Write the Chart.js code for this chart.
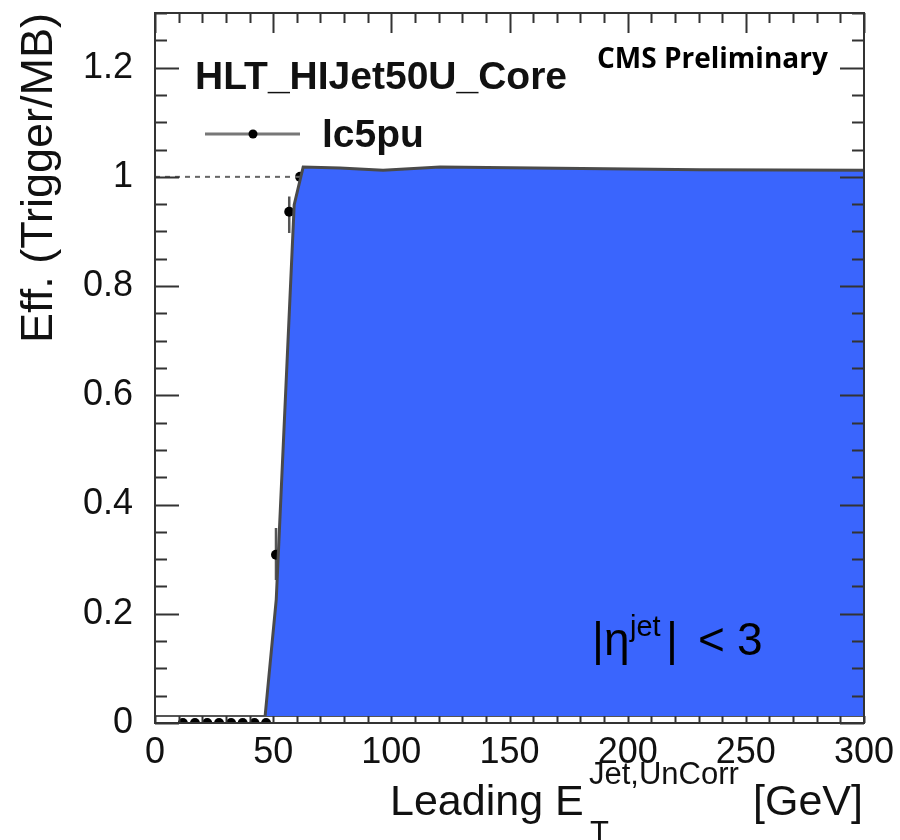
<!DOCTYPE html>
<html>
<head>
<meta charset="utf-8">
<script src="https://cdn.jsdelivr.net/npm/chart.js@4.4.1/dist/chart.umd.min.js"></script>
<style>
  html, body { margin: 0; padding: 0; background: #ffffff; }
  #wrap { width: 900px; height: 840px; position: relative; }
</style>
</head>
<body>
<div id="wrap"><canvas id="c" width="900" height="840"></canvas></div>
<script>
// Trigger efficiency points (lc5pu), leading jet ET in GeV
const PT_X      = [11.8, 16.9, 22.1, 27.1, 32.2, 37.1, 42.1, 47.0, 51.2, 56.8, 61.4];
const PT_EFF    = [0, 0, 0, 0, 0, 0, 0, 0, 0.308, 0.936, 1.0];
const PT_ERR_LO = [0, 0, 0, 0, 0, 0, 0, 0, 0.046, 0.039, 0];
const PT_ERR_HI = [0, 0, 0, 0, 0, 0, 0, 0, 0.049, 0.028, 0];

// Shaded plateau band (upper outline), filled down to BAND_BASE
const BAND_X    = [46.6, 51.3, 58.9, 62.7, 78.3, 96.5, 120.6, 230.5, 300];
const BAND_Y    = [0.013, 0.226, 0.949, 1.018, 1.016, 1.012, 1.018, 1.013, 1.012];
const BAND_BASE = 0.013;

// Full-efficiency reference line
const REF_X = [0, 300];
const REF_Y = 1;

// Axis tick labels
const X_TICKS = [0, 50, 100, 150, 200, 250, 300];
const Y_TICKS = [0, 0.2, 0.4, 0.6, 0.8, 1.0, 1.2];

const FRAME = '#333333';

// ROOT-style frame with inward ticks on all four sides
const framePlugin = {
  id: 'frame',
  afterDraw(chart) {
    const { ctx, chartArea: a, scales: { x, y } } = chart;
    ctx.save();
    ctx.strokeStyle = FRAME;
    ctx.lineWidth = 2;
    ctx.beginPath();
    // y ticks: every 0.05, major every 0.2
    for (let i = 0; i <= 26; i++) {
      const v = i * 0.05;
      const py = Math.round(y.getPixelForValue(v)) + 0.5;
      const len = (i % 4 === 0) ? 24 : 12;
      ctx.moveTo(a.left, py); ctx.lineTo(a.left + len, py);
      ctx.moveTo(a.right, py); ctx.lineTo(a.right - len, py);
    }
    // x ticks: every 10 GeV, major every 50
    for (let i = 0; i <= 30; i++) {
      const v = i * 10;
      const px = Math.round(x.getPixelForValue(v)) + 0.5;
      const len = (i % 5 === 0) ? 20 : 10;
      ctx.moveTo(px, a.top); ctx.lineTo(px, a.top + len);
      ctx.moveTo(px, a.bottom); ctx.lineTo(px, a.bottom - 7);
    }
    ctx.stroke();
    ctx.strokeRect(a.left, a.top, a.right - a.left, a.bottom - a.top);
    ctx.restore();
  }
};

// Vertical error bars, drawn beneath the markers
const errorPlugin = {
  id: 'errors',
  beforeDatasetsDraw(chart) {
    const { ctx, scales: { x, y } } = chart;
    ctx.save();
    ctx.strokeStyle = '#555555';
    ctx.lineWidth = 2.5;
    ctx.beginPath();
    PT_X.forEach((xv, i) => {
      if (PT_ERR_LO[i] === 0 && PT_ERR_HI[i] === 0) return;
      const px = x.getPixelForValue(xv);
      ctx.moveTo(px, y.getPixelForValue(PT_EFF[i] - PT_ERR_LO[i]));
      ctx.lineTo(px, y.getPixelForValue(PT_EFF[i] + PT_ERR_HI[i]));
    });
    ctx.stroke();
    ctx.restore();
  }
};

// Labels, legend entry and axis titles
const textPlugin = {
  id: 'texts',
  afterDraw(chart) {
    const { ctx } = chart;
    ctx.save();
    ctx.fillStyle = '#111111';
    ctx.textBaseline = 'alphabetic';

    ctx.font = 'bold 39px "Liberation Sans", Arial, sans-serif';
    ctx.textAlign = 'left';
    ctx.fillText('HLT_HIJet50U_Core', 195, 89);

    // legend entry
    ctx.strokeStyle = '#777777';
    ctx.lineWidth = 3;
    ctx.beginPath(); ctx.moveTo(205, 134); ctx.lineTo(300, 134); ctx.stroke();
    ctx.fillStyle = '#000000';
    ctx.beginPath(); ctx.arc(253, 134, 4.5, 0, Math.PI * 2); ctx.fill();
    ctx.fillStyle = '#111111';
    ctx.fillText('lc5pu', 322, 147);

    ctx.font = 'bold 28px "Open Sans", "DejaVu Sans", sans-serif';
    ctx.fillStyle = '#000000';
    ctx.fillText('CMS Preliminary', 597, 68);

    // |eta^jet| < 3
    ctx.font = '46px "Liberation Sans", Arial, sans-serif';
    ctx.fillText('|\u03B7', 592, 655);
    ctx.font = '29px "Liberation Sans", Arial, sans-serif';
    ctx.fillText('jet', 630, 636);
    ctx.font = '46px "Liberation Sans", Arial, sans-serif';
    ctx.fillText('|', 666, 655);
    ctx.fillText('<', 698, 655);
    ctx.fillText('3', 737, 655);

    // x-axis title
    ctx.fillStyle = '#111111';
    ctx.font = '43px "Liberation Sans", Arial, sans-serif';
    ctx.fillText('Leading E', 390, 815);
    ctx.textAlign = 'right';
    ctx.fillText('[GeV]', 863, 815);
    ctx.textAlign = 'left';
    ctx.font = '31px "Liberation Sans", Arial, sans-serif';
    ctx.fillText('Jet,UnCorr', 589, 784);
    ctx.fillText('T', 590, 843);

    // y-axis title
    ctx.translate(40, 178);
    ctx.rotate(-Math.PI / 2);
    ctx.textAlign = 'center';
    ctx.textBaseline = 'middle';
    ctx.font = '45px "Liberation Sans", Arial, sans-serif';
    ctx.fillText('Eff. (Trigger/MB)', 0, 0);
    ctx.restore();
  }
};

const tickFont = { family: '"Liberation Sans", Arial, sans-serif', size: 36 };

new Chart(document.getElementById('c').getContext('2d'), {
  type: 'scatter',
  data: {
    datasets: [
      {
        label: 'band',
        data: BAND_X.map((v, i) => ({ x: v, y: BAND_Y[i] })),
        showLine: true,
        borderColor: '#4a4a4a',
        borderWidth: 3,
        backgroundColor: '#3a65fd',
        fill: { value: BAND_BASE },
        pointRadius: 0,
        tension: 0
      },
      {
        label: 'base',
        data: REF_X.map(v => ({ x: v, y: BAND_BASE })),
        showLine: true,
        borderColor: '#555555',
        borderWidth: 2,
        pointRadius: 0,
        fill: false
      },
      {
        label: 'ref',
        data: REF_X.map(v => ({ x: v, y: REF_Y })),
        showLine: true,
        borderColor: '#666666',
        borderWidth: 2,
        borderDash: [5, 5],
        pointRadius: 0,
        fill: false
      },
      {
        label: 'lc5pu',
        data: PT_X.map((v, i) => ({ x: v, y: PT_EFF[i] })),
        showLine: false,
        pointRadius: 5,
        pointBackgroundColor: '#000000',
        pointBorderColor: '#000000',
        pointBorderWidth: 0
      }
    ]
  },
  options: {
    responsive: false,
    animation: false,
    devicePixelRatio: 1,
    layout: { padding: { top: 13, right: 36, left: 0, bottom: 0 } },
    plugins: { legend: { display: false }, tooltip: { enabled: false } },
    scales: {
      x: {
        type: 'linear', min: 0, max: 300,
        afterFit(s) { s.height = 117; s.paddingLeft = 0; s.paddingRight = 0; },
        afterBuildTicks(s) { s.ticks = X_TICKS.map(v => ({ value: v })); },
        grid: { display: false }, border: { display: false },
        ticks: { font: tickFont, color: '#111111', padding: 0, maxRotation: 0, autoSkip: false }
      },
      y: {
        type: 'linear', min: 0, max: 1.3,
        afterFit(s) { s.width = 155; s.paddingTop = 0; s.paddingBottom = 0; },
        afterBuildTicks(s) { s.ticks = Y_TICKS.map(v => ({ value: v })); },
        grid: { display: false }, border: { display: false },
        ticks: {
          font: tickFont, color: '#111111', padding: 14, autoSkip: false,
          callback: v => String(Math.round(v * 10) / 10)
        }
      }
    }
  },
  plugins: [errorPlugin, framePlugin, textPlugin]
});
</script>
</body>
</html>
